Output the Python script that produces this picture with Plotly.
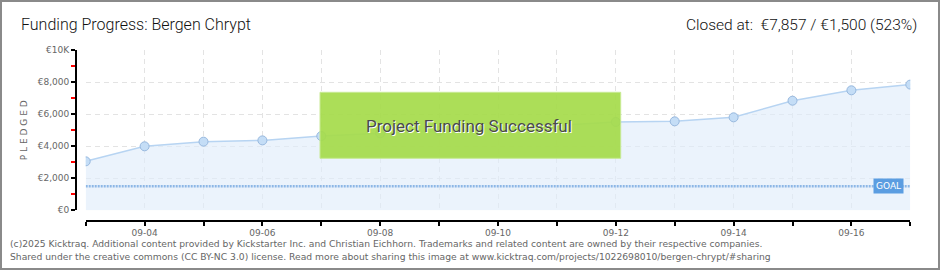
import plotly.graph_objects as go

# ---- data ----
dates = ["2025-09-03", "2025-09-04", "2025-09-05", "2025-09-06", "2025-09-07",
         "2025-09-08", "2025-09-09", "2025-09-10", "2025-09-11", "2025-09-12",
         "2025-09-13", "2025-09-14", "2025-09-15", "2025-09-16", "2025-09-17"]
pledged = [3060, 4000, 4290, 4370, 4640, 4810, 4950, 5150, 5300, 5520,
           5560, 5810, 6850, 7500, 7857]
goal = 1500
y_tickvals = [0, 2000, 4000, 6000, 8000, 10000]
y_ticktext = ["€0", "€2,000", "€4,000", "€6,000", "€8,000", "€10K"]
x_ticktext = ["" if i % 2 == 0 else d[5:] for i, d in enumerate(dates)]

title_left = "Funding Progress: Bergen Chrypt"
title_right = "Closed at:  €7,857 / €1,500 (523%)"
banner = "Project Funding Successful"
footer1 = ("(c)2025 Kicktraq. Additional content provided by Kickstarter Inc. and Christian Eichhorn. "
           "Trademarks and related content are owned by their respective companies.")
footer2 = ("Shared under the creative commons (CC BY-NC 3.0) license. Read more about sharing this image "
           "at www.kicktraq.com/projects/1022698010/bergen-chrypt/#sharing")

# ---- geometry helpers (pixels -> paper) ----
W, H = 940, 270
def px(x):
    return x / W
def py(y):
    return 1 - y / H

TICKFONT = dict(family="DejaVu Sans", size=9, color="#666666")

fig = go.Figure()

fig.add_trace(go.Scatter(
    x=dates, y=pledged, mode="lines+markers",
    fill="tozeroy", fillcolor="rgba(225,237,251,0.65)",
    line=dict(color="#b7d4f2", width=1.5),
    marker=dict(size=9, color="#c4ddf6", line=dict(color="#97b8de", width=1)),
    hoverinfo="skip", showlegend=False,
))

fig.add_trace(go.Scatter(
    x=[dates[0], dates[-1]], y=[goal, goal], mode="lines",
    line=dict(color="#8db7e6", width=2.5, dash="2px,1px"),
    hoverinfo="skip", showlegend=False,
))

fig.update_layout(
    width=W, height=H,
    margin=dict(l=0, r=0, t=0, b=0, pad=0, autoexpand=False),
    paper_bgcolor="white", plot_bgcolor="white",
    xaxis=dict(
        domain=[px(85.7), px(910.3)], anchor="free", position=py(220.5),
        range=[dates[0], dates[-1]], type="date", automargin=False,
        tickvals=dates, ticktext=x_ticktext,
        showline=True, linecolor="black", linewidth=2,
        ticks="outside", ticklen=4, tickwidth=1.5, tickcolor="black",
        tickfont=TICKFONT,
        showgrid=True, gridcolor="#e3e3e3", gridwidth=1, griddash="5px,4px",
        zeroline=False, fixedrange=True,
    ),
    yaxis=dict(
        domain=[py(210.3), py(50.3)], anchor="free", position=px(76),
        range=[0, 10000], automargin=False,
        tickvals=y_tickvals, ticktext=y_ticktext,
        showline=True, linecolor="black", linewidth=2,
        ticks="outside", ticklen=4, tickwidth=1.5, tickcolor="black",
        minor=dict(dtick=1000, tick0=1000, ticks="outside", ticklen=4,
                   tickcolor="red", tickwidth=1.5, showgrid=False),
        tickfont=TICKFONT,
        showgrid=True, gridcolor="#e3e3e3", gridwidth=1, griddash="5px,4px",
        zeroline=False, fixedrange=True,
        title=dict(text="P L E D G E D", font=dict(family="DejaVu Sans", size=9, color="#666666"),
                   standoff=8),
    ),
)

shapes = [
    # success banner
    dict(type="rect", xref="paper", yref="paper",
         x0=px(320), x1=px(620.7), y0=py(158.3), y1=py(92.3),
         fillcolor="#a6dc4c", opacity=0.93, line=dict(color="#c4e98c", width=1),
         layer="above"),
    # outer frame
    dict(type="rect", xref="paper", yref="paper", x0=0, x1=1, y0=0, y1=1,
         line=dict(color="#8a8a8a", width=4), fillcolor="rgba(0,0,0,0)", layer="above"),
]
fig.update_layout(shapes=shapes)

annotations = [
    dict(text=title_left, xref="paper", yref="paper", x=px(19), y=py(24.5),
         xanchor="left", yanchor="middle", showarrow=False,
         font=dict(family="Roboto", size=16, color="#111111", weight=300)),
    dict(text=title_right, xref="paper", yref="paper", x=px(919), y=py(24.5),
         xanchor="right", yanchor="middle", showarrow=False,
         font=dict(family="Roboto", size=15.5, color="#111111", weight=300)),
    dict(text=banner, xref="paper", yref="paper", x=px(469), y=py(125.5),
         xanchor="center", yanchor="middle", showarrow=False,
         font=dict(family="Roboto", size=17, color="#4a4a4a", shadow="1px 1px 0px #ffffff")),
    dict(text="GOAL", xref="x", yref="y", x=dates[-1], y=goal,
         xanchor="right", yanchor="middle", xshift=-6, showarrow=False,
         bgcolor="#5b9de1", borderpad=2,
         font=dict(family="DejaVu Sans", size=9, color="white")),
    dict(text=footer1, xref="paper", yref="paper", x=px(8), y=py(243.5),
         xanchor="left", yanchor="middle", showarrow=False,
         font=dict(family="DejaVu Sans", size=9.2, color="#666666")),
    dict(text=footer2, xref="paper", yref="paper", x=px(8), y=py(256.5),
         xanchor="left", yanchor="middle", showarrow=False,
         font=dict(family="DejaVu Sans", size=9.2, color="#666666")),
]
fig.update_layout(annotations=annotations)

fig.write_html("out.html")
